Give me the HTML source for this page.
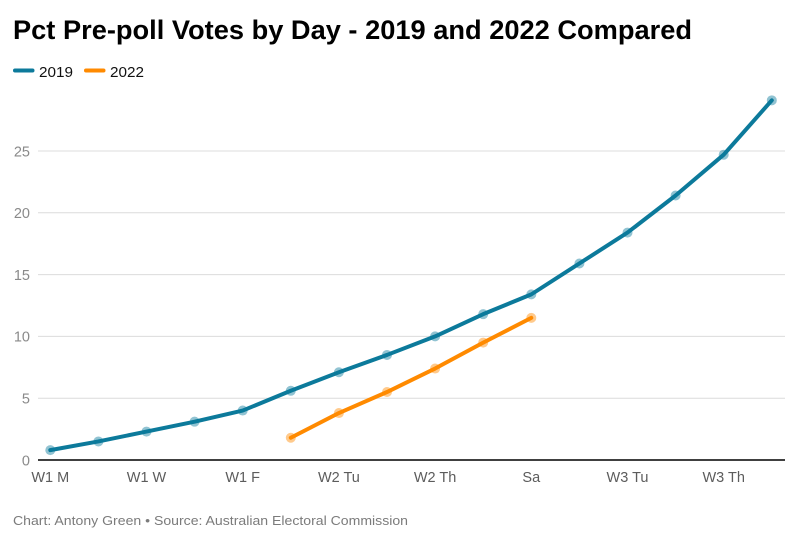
<!DOCTYPE html>
<html>
<head>
<meta charset="utf-8">
<style>
html,body{margin:0;padding:0;background:#fff;}
#chart{display:block;width:800px;height:542px;font-family:"Liberation Sans",sans-serif;}
</style>
</head>
<body>
<svg id="chart" xmlns="http://www.w3.org/2000/svg" width="800" height="542" viewBox="0 0 800 542">
<rect width="800" height="542" fill="#ffffff"/>
<text x="13" y="39" font-size="27" font-weight="bold" fill="#000" textLength="679" lengthAdjust="spacingAndGlyphs">Pct Pre-poll Votes by Day - 2019 and 2022 Compared</text>
<g>
<g>
<line x1="15" y1="70.5" x2="32.5" y2="70.5" stroke="#0c7a9b" stroke-width="4" stroke-linecap="round"/>
<text x="39" y="77" font-size="14.5" fill="#111" textLength="34" lengthAdjust="spacingAndGlyphs">2019</text>
</g>
<g>
<line x1="86" y1="70.5" x2="103.5" y2="70.5" stroke="#ff8a00" stroke-width="4" stroke-linecap="round"/>
<text x="110" y="77" font-size="14.5" fill="#111" textLength="34" lengthAdjust="spacingAndGlyphs">2022</text>
</g>
</g>
<g id="grid"></g>
<g id="yaxis"></g>
<g id="xaxis"></g>
<g id="series"></g>
<text x="13" y="525" font-size="13.3" fill="#7b7b7b" textLength="395" lengthAdjust="spacingAndGlyphs">Chart: Antony Green • Source: Australian Electoral Commission</text>
</svg>
<script>
const categories = ["W1 M","W1 Tu","W1 W","W1 Th","W1 F","W2 M","W2 Tu","W2 W","W2 Th","W2 F","Sa","W3 M","W3 Tu","W3 W","W3 Th","W3 F"];
const values2019 = [0.8,1.5,2.3,3.1,4.0,5.6,7.1,8.5,10.0,11.8,13.4,15.9,18.4,21.4,24.7,29.1];
const values2022 = [null,null,null,null,null,1.8,3.8,5.5,7.4,9.5,11.5,null,null,null,null,null];
const yTicks = [0,5,10,15,20,25];
const xTickLabels = ["W1 M","W1 W","W1 F","W2 Tu","W2 Th","Sa","W3 Tu","W3 Th"];

const NS = "http://www.w3.org/2000/svg";
const plotLeft = 38, plotRight = 785;
function xScale(i){ return 50.3 + i * (771.8 - 50.3) / (categories.length - 1); }
function yScale(v){ return 460 - v * 12.36; }
function make(tag, attrs, parent){
  const el = document.createElementNS(NS, tag);
  for (const k in attrs) el.setAttribute(k, attrs[k]);
  parent.appendChild(el);
  return el;
}
const grid = document.getElementById("grid");
const yaxis = document.getElementById("yaxis");
const xaxis = document.getElementById("xaxis");
const seriesLayer = document.getElementById("series");

yTicks.forEach(function(t){
  if (t !== 0) {
    const g = make("line", {x1:plotLeft, x2:plotRight, y1:yScale(t), y2:yScale(t), stroke:"#dcdcdc", "stroke-width":1}, grid);
    
    
  }
  const lab = make("text", {x:30, y:yScale(t) + 5.3, "text-anchor":"end", "font-size":14.5, fill:"#8a8a8a"}, yaxis);
  lab.textContent = t;
  
  
});

function drawSeries(values, color, name){
  const pts = [];
  values.forEach(function(v, i){ if (v !== null) pts.push([xScale(i), yScale(v)]); });
  const line = make("polyline", {points: pts.map(function(p){ return p.join(","); }).join(" "), fill:"none", stroke:color, "stroke-width":4, "stroke-linejoin":"round", "stroke-linecap":"round"}, seriesLayer);
  
  
  pts.forEach(function(p){
    const c = make("circle", {cx:p[0], cy:p[1], r:5, fill:color, "fill-opacity":0.45}, seriesLayer);
    
    
  });
}
drawSeries(values2019, "#0c7a9b", "2019");
drawSeries(values2022, "#ff8a00", "2022");

const baseline = make("line", {x1:plotLeft, x2:plotRight, y1:yScale(0), y2:yScale(0), stroke:"#000", "stroke-width":1.6}, xaxis);



xTickLabels.forEach(function(label){
  const i = categories.indexOf(label);
  const lab = make("text", {x:xScale(i), y:482, "text-anchor":"middle", "font-size":14.5, fill:"#5c5c5c"}, xaxis);
  lab.textContent = label;
  
  
});
</script>
</body>
</html>
